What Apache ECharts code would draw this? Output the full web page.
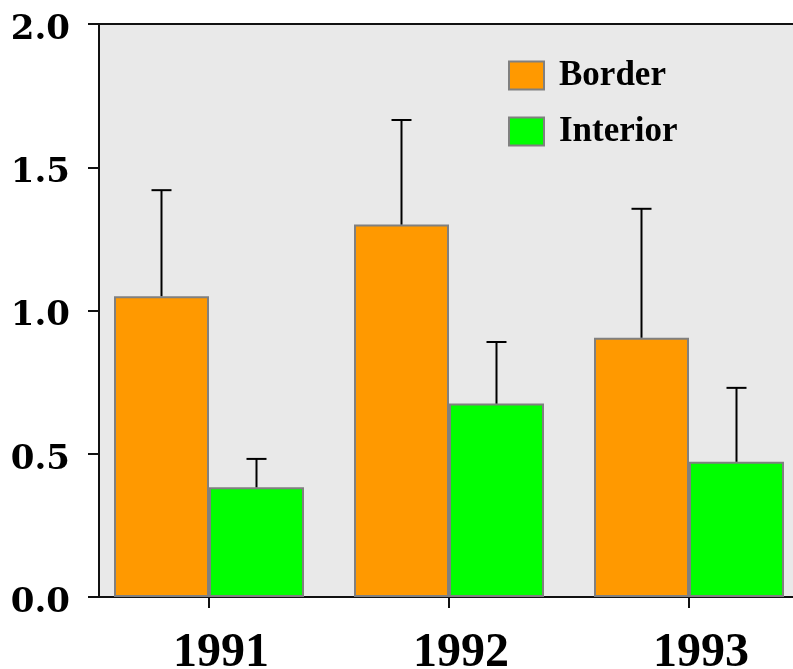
<!DOCTYPE html>
<html>
<head>
<meta charset="utf-8">
<script src="https://cdn.jsdelivr.net/npm/echarts@6/dist/echarts.min.js"></script>
<style>html,body{margin:0;padding:0;background:#fff;}#c{width:793px;height:669px;}</style>
</head>
<body>
<div id="c"></div>
<script>
var years = ['1991', '1992', '1993'];
var borderValues = [1.05, 1.30, 0.905];
var borderUpper = [1.42, 1.665, 1.355];
var interiorValues = [0.383, 0.675, 0.472];
var interiorUpper = [0.482, 0.89, 0.73];
var yTicks = [0, 0.5, 1.0, 1.5, 2.0];

var BAR_W = 95;
function errData(vals, ups) {
  return vals.map(function (v, i) { return [i, v, ups[i]]; });
}
function errRender(shift) {
  return function (params, api) {
    var i = api.value(0);
    var p0 = api.coord([i, api.value(1)]);
    var p1 = api.coord([i, api.value(2)]);
    var x = p0[0] + shift;
    var st = { stroke: '#000', lineWidth: 2 };
    return {
      type: 'group',
      children: [
        { type: 'line', shape: { x1: x, y1: p0[1], x2: x, y2: p1[1] }, style: st },
        { type: 'line', shape: { x1: x - 10, y1: p1[1], x2: x + 10, y2: p1[1] }, style: st }
      ]
    };
  };
}

var chart = echarts.init(document.getElementById('c'));
chart.setOption({
  animation: false,
  backgroundColor: '#fff',
  grid: { left: 89, right: -16, top: 24, bottom: 72, outerBoundsMode: 'none', containLabel: false },
  graphic: [{
    type: 'rect', z: -10, silent: true,
    shape: { x: 99, y: 24, width: 700, height: 573 },
    style: { fill: '#e9e9e9' }
  }],
  legend: {
    orient: 'vertical', left: 508, top: 58, padding: 0,
    itemWidth: 35, itemHeight: 28, itemGap: 21,
    icon: 'rect',
    textStyle: { fontFamily: 'Liberation Serif', fontWeight: 'bold', fontSize: 35, color: '#000', lineHeight: 18, padding: [10, 0, 0, 10] },
    data: ['Border', 'Interior']
  },
  xAxis: [{
    type: 'category', data: years, position: 'bottom',
    axisLine: { lineStyle: { color: '#111', width: 2 } },
    axisTick: { show: true, alignWithLabel: true, length: 11, lineStyle: { color: '#111', width: 2 } },
    axisLabel: { fontFamily: 'Liberation Serif', fontWeight: 'bold', fontSize: 48, color: '#000', margin: 33, padding: [0, 0, 0, 24] },
    splitLine: { show: false }
  }, {
    type: 'category', data: years, position: 'top',
    axisLine: { lineStyle: { color: '#111', width: 2 } },
    axisTick: { show: false }, axisLabel: { show: false }, splitLine: { show: false }
  }],
  yAxis: {
    type: 'value', min: yTicks[0], max: yTicks[yTicks.length - 1], interval: 0.5, offset: -10,
    axisLine: { show: true, lineStyle: { color: '#111', width: 2 } },
    axisTick: { show: true, length: 11, lineStyle: { color: '#111', width: 2 } },
    axisLabel: { fontFamily: 'DejaVu Serif', fontWeight: 'bold', fontSize: 34, color: '#000', margin: 29,
      verticalAlign: 'top', lineHeight: 12,
      formatter: function (v) { return v.toFixed(1); } },
    splitLine: { show: false }
  },
  series: [{
    name: 'Border', type: 'bar', data: borderValues, barWidth: BAR_W, barGap: '0%',
    itemStyle: { color: '#ff9900', borderColor: '#808080', borderWidth: 2 }
  }, {
    name: 'Interior', type: 'bar', data: interiorValues, barWidth: BAR_W, barGap: '0%',
    itemStyle: { color: '#00ff00', borderColor: '#808080', borderWidth: 2 }
  }, {
    type: 'custom', z: 5, silent: true, renderItem: errRender(-BAR_W / 2),
    data: errData(borderValues, borderUpper)
  }, {
    type: 'custom', z: 5, silent: true, renderItem: errRender(BAR_W / 2),
    data: errData(interiorValues, interiorUpper)
  }]
});
</script>
</body>
</html>
